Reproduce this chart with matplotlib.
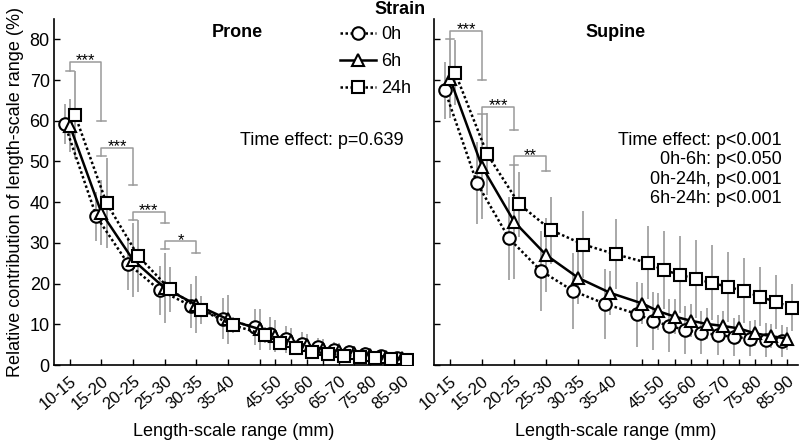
import numpy as np
import matplotlib
matplotlib.use("Agg")
import matplotlib.pyplot as plt

plt.rcParams['font.family'] = ['Liberation Sans', 'DejaVu Sans']

# ---- data ----
categories = ["10-15", "15-20", "20-25", "25-30", "30-35", "35-40", "40-45", "45-50",
              "50-55", "55-60", "60-65", "65-70", "70-75", "75-80", "80-85", "85-90"]
labeled = ["10-15", "15-20", "20-25", "25-30", "30-35", "35-40",
           "45-50", "55-60", "65-70", "75-80", "85-90"]
series_names = ["0h", "6h", "24h"]

prone_0h = [59.2, 36.5, 24.9, 18.4, 14.5, 11.4, 9.3, 7.7, 6.3, 5.2, 4.3, 3.7, 3.2, 2.8, 2.3, 1.8]
prone_6h = [58.8, 37.4, 25.8, 18.9, 14.8, 11.2, 8.8, 7.1, 5.8, 4.8, 4.0, 3.4, 2.9, 2.5, 2.0, 1.6]
prone_24h = [61.5, 39.8, 26.8, 18.6, 13.5, 9.8, 7.4, 5.5, 4.2, 3.3, 2.8, 2.3, 2.0, 1.7, 1.5, 1.3]
prone_0h_err = [5.0, 6.0, 6.5, 6.0, 5.5, 5.0, 4.5, 4.0, 3.3, 2.8, 2.3, 2.0, 1.7, 1.5, 1.2, 1.0]
prone_6h_err = [6.5, 8.0, 9.2, 8.5, 7.0, 6.0, 5.0, 4.0, 3.2, 2.7, 2.3, 2.0, 1.7, 1.4, 1.2, 1.0]
prone_24h_err = [10.8, 11.0, 8.8, 5.5, 3.5, 2.0, 2.0, 1.5, 1.2, 1.0, 0.8, 0.7, 0.6, 0.5, 0.4, 0.3]

supine_0h = [67.5, 44.7, 31.1, 23.1, 18.2, 15.0, 12.5, 10.8, 9.6, 8.6, 7.9, 7.4, 6.9, 6.5, 6.1, 5.9]
supine_6h = [70.3, 48.7, 35.2, 27.0, 21.4, 17.7, 15.1, 13.2, 11.9, 10.9, 10.1, 9.6, 9.0, 7.8, 7.1, 6.5]
supine_24h = [71.8, 51.8, 39.5, 33.1, 29.6, 27.2, 25.1, 23.3, 22.2, 21.1, 20.2, 19.2, 18.2, 16.8, 15.5, 14.1]
supine_0h_err = [7.0, 10.0, 10.2, 9.8, 9.4, 8.5, 8.0, 7.2, 6.5, 5.8, 5.3, 4.9, 4.6, 4.3, 4.1, 3.9]
supine_6h_err = [9.7, 12.9, 14.0, 9.0, 6.5, 5.5, 5.0, 4.5, 4.2, 4.0, 3.8, 3.6, 3.4, 3.2, 3.0, 2.8]
supine_24h_err = [8.0, 10.0, 8.0, 8.2, 8.2, 8.6, 9.0, 9.6, 9.5, 9.6, 9.2, 8.6, 8.0, 7.3, 6.6, 5.8]

# significance brackets: (from category, to category, left start, top, right end, label)
prone_brackets = [("10-15", "15-20", 72.3, 74.5, 60.0, "***"),
                  ("15-20", "20-25", 51.4, 53.3, 44.3, "***"),
                  ("20-25", "25-30", 35.6, 37.6, 34.8, "***"),
                  ("25-30", "30-35", 28.4, 30.4, 27.5, "*")]
supine_brackets = [("10-15", "15-20", 80.0, 82.1, 70.0, "***"),
                   ("15-20", "20-25", 61.6, 63.5, 57.7, "***"),
                   ("20-25", "25-30", 49.2, 51.3, 47.7, "**")]

prone_text = ["Time effect: p=0.639"]
supine_text = ["Time effect: p<0.001", "0h-6h: p<0.050", "0h-24h, p<0.001", "6h-24h: p<0.001"]

# ---- layout ----
pos = np.concatenate([np.arange(6), 6 + 0.5 * np.arange(10)]).astype(float)
cat_pos = dict(zip(categories, pos))
offsets = [-0.16, 0.0, 0.16]
styles = [dict(ls=(0, (1, 1)), marker='o'),
          dict(ls='-', marker='^'),
          dict(ls=(0, (1, 1)), marker='s')]
gray = '#9a9a9a'

fig = plt.figure(figsize=(8, 4.44), dpi=100)
ax1 = fig.add_axes([54 / 800, 79 / 444, 359 / 800, 346 / 444])
ax2 = fig.add_axes([434 / 800, 79 / 444, 364 / 800, 346 / 444])

panels = [
    (ax1, "Prone", [prone_0h, prone_6h, prone_24h], [prone_0h_err, prone_6h_err, prone_24h_err], prone_brackets),
    (ax2, "Supine", [supine_0h, supine_6h, supine_24h], [supine_0h_err, supine_6h_err, supine_24h_err], supine_brackets),
]

for ax, title, vals, errs, brackets in panels:
    for k in range(3):
        x = pos + offsets[k]
        ax.vlines(x, np.array(vals[k]) - np.array(errs[k]), np.array(vals[k]) + np.array(errs[k]),
                  color=gray, lw=1.2, zorder=1)
    for k in range(3):
        x = pos + offsets[k]
        ax.plot(x, vals[k], color='black', lw=1.8, linestyle=styles[k]['ls'],
                marker=styles[k]['marker'], markersize=9, markerfacecolor='white',
                markeredgecolor='black', markeredgewidth=1.5, zorder=3 + k,
                label=series_names[k])
    cw = 0.13
    for c1, c2, y1, yt, y2, lab in brackets:
        xa, xb = cat_pos[c1], cat_pos[c2]
        ax.plot([xa, xa, xb, xb], [y1, yt, yt, y2], color=gray, lw=1.1, zorder=2)
        ax.plot([xa - cw, xa + cw], [y1, y1], color=gray, lw=1.1, zorder=2)
        ax.plot([xb - cw, xb + cw], [y2, y2], color=gray, lw=1.1, zorder=2)
        ax.text((xa + xb) / 2, yt - 1.6, lab, ha='center', va='bottom', fontsize=12)

    ax.set_xlim(-0.5, 10.85)
    ax.set_ylim(0, 85)
    ax.set_xticks(pos)
    ax.set_xticklabels([c if c in labeled else "" for c in categories],
                       rotation=40, ha='right', rotation_mode='anchor', fontsize=12)
    ax.set_yticks(np.arange(0, 81, 10))
    ax.tick_params(direction='in', length=4, width=1, pad=3)
    ax.tick_params(axis='x', pad=6)
    for s in ['top', 'right']:
        ax.spines[s].set_visible(False)
    for s in ['left', 'bottom']:
        ax.spines[s].set_linewidth(1.2)
    ax.set_xlabel("Length-scale range (mm)", fontsize=13, labelpad=8)
    ax.text(0.51 if title == "Prone" else 0.5, 0.962, title, transform=ax.transAxes,
            ha='center', va='center', fontsize=13, fontweight='bold')

ax1.set_ylabel("Relative contribution of length-scale range (%)", fontsize=13, labelpad=4)
ax1.tick_params(axis='y', labelsize=13)
ax2.tick_params(axis='y', labelleft=False)

ax1.legend(loc='upper right', bbox_to_anchor=(1.025, 1.01), frameon=False, fontsize=13,
           handlelength=2.0, handletextpad=0.3, labelspacing=0.55, borderaxespad=0.2)

ax1.text(0.975, 0.65, prone_text[0], transform=ax1.transAxes, ha='right', va='center', fontsize=13)
for i, t in enumerate(supine_text):
    ax2.text(0.955, 0.65 - i * 0.0565, t, transform=ax2.transAxes, ha='right', va='center', fontsize=13)

fig.text(0.5, 0.998, "Strain", ha='center', va='top', fontsize=13, fontweight='bold')

fig.savefig("out.png", dpi=100)
